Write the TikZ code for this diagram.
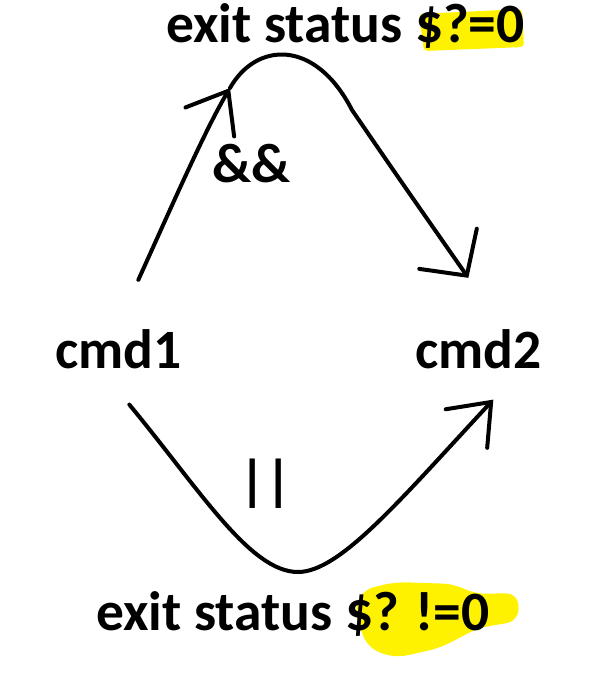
\documentclass[tikz,border=0pt]{standalone}
\usepackage{fontspec}
\setmainfont{Carlito}
\usetikzlibrary{arrows.meta}

\begin{document}
\begin{tikzpicture}
  [x=1pt,y=-1pt,
  txt/.style={font=\fontsize{55.5}{60}\selectfont\bfseries,inner sep=0pt,anchor=base west},
  arc/.style={black,line width=4pt,line cap=round,line join=round},
  tip/.style={-{Straight Barb[angle=76:46pt,line cap=round]}},
  widetip/.style={-{Straight Barb[angle=94:48pt,line cap=round]}},
  hilite/.style={fill=yellow,draw=none}]
  \useasboundingbox (0,0) rectangle (606,694);

  % yellow marker behind the exit codes
  \fill[hilite,rounded corners=4pt] (419,14) -- (522,9) -- (524,47) -- (424,51) -- cycle;
  \fill[hilite,rounded corners=12pt] (354,612) -- (362,590) -- (395,582) -- (455,584) -- (474,594) -- (518,593) -- (519,621) -- (478,628) -- (440,648) -- (395,658) -- (368,648) -- cycle;

  \node[txt] (ok) at (166,42) {exit status \$?=0};
  \node[txt] (and) at (212,182) {\&\&};
  \node[txt] (cmd1) at (55,368) {cmd1};
  \node[txt] (cmd2) at (415,368) {cmd2};
  \node[txt] (or) at (239,499) {||};
  \node[txt] (fail) at (96,630) {exit status \$? !=0};

  \coordinate (andtip) at (230,88);

  \draw[arc,tip] ([shift={(20,-49)}]cmd1.north) .. controls (170,210) and (205,130) .. (andtip);
  \draw[arc,widetip] (andtip) .. controls (256,42) and (315,38) .. (352,110) .. controls (400,180) .. ([shift={(-10,-51)}]cmd2.north);
  \draw[arc,tip] ([shift={(11,36)}]cmd1.south) .. controls (200,490) and (250,572) .. (298,572) .. controls (340,572) and (400,500) .. ([shift={(15,31)}]cmd2.south);
\end{tikzpicture}
\end{document}
